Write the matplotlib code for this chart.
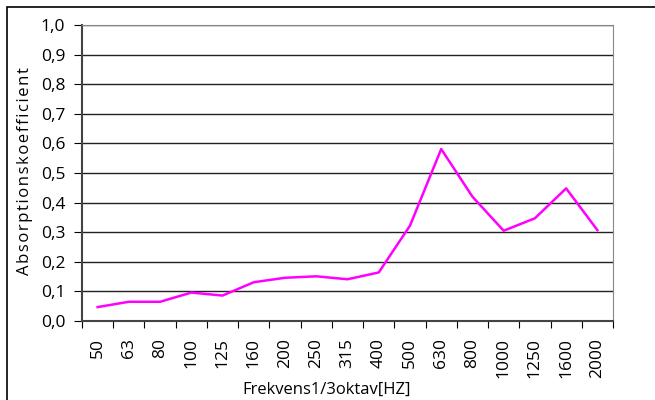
import matplotlib
matplotlib.use("Agg")
import matplotlib.pyplot as plt
import numpy as np
from matplotlib.patches import Rectangle

# Absorption coefficient per third-octave band
freqs = ["50", "63", "80", "100", "125", "160", "200", "250", "315", "400",
         "500", "630", "800", "1000", "1250", "1600", "2000"]
alpha = [0.047, 0.065, 0.065, 0.096, 0.086, 0.131, 0.146, 0.151, 0.141, 0.164,
         0.322, 0.581, 0.42, 0.305, 0.347, 0.448, 0.307]
yticks = [0.0, 0.1, 0.2, 0.3, 0.4, 0.5, 0.6, 0.7, 0.8, 0.9, 1.0]

plt.rcParams['font.family'] = ['Open Sans', 'DejaVu Sans']

fig = plt.figure(figsize=(6.55, 4.0), dpi=100)
# outer frame (cut off at right and bottom like the reference)
fig.patches.append(Rectangle((7 / 655, -0.1), 1.2, 1.1 - 7 / 400,
                             transform=fig.transFigure, fill=False,
                             edgecolor='black', linewidth=1.2))
ax = fig.add_axes([82 / 655, 79 / 400, 531 / 655, 296 / 400])

n = len(freqs)
x = np.arange(n) + 0.5
ax.plot(x, alpha, color='#ff00ff', linewidth=1.8)

ax.set_xlim(0, n)
ax.set_ylim(0, 1.0)
ax.set_yticks(yticks)
ax.set_yticklabels([f"{v:.1f}".replace('.', ',') for v in yticks], fontsize=12.5)
for v in yticks[1:]:
    ax.axhline(v, color='#222222', linewidth=1.0, zorder=0)

ax.set_xticks(np.arange(n + 1))
ax.set_xticklabels([])
ax.set_xticks(x, minor=True)
ax.set_xticklabels(freqs, minor=True, rotation=90, fontsize=12.5)
ax.tick_params(axis='x', which='minor', length=0, pad=12)
ax.tick_params(axis='x', which='major', length=5, direction='out', color='black')
ax.tick_params(axis='y', length=6, direction='out', color='black', pad=6)

for s in ['top', 'right']:
    ax.spines[s].set_color('#888888')
for s in ['left', 'bottom']:
    ax.spines[s].set_color('#444444')
    ax.spines[s].set_linewidth(1.5)

ylab = "\u200a".join("Absorptionskoefficient")
ax.set_ylabel(ylab, fontsize=12)
ax.yaxis.set_label_coords(-0.092, 0.507)
ax.set_xlabel("Frekvens1/3oktav[HZ]", fontsize=12)
ax.xaxis.set_label_coords(0.46, -0.205)

fig.savefig("out.png", dpi=100)
